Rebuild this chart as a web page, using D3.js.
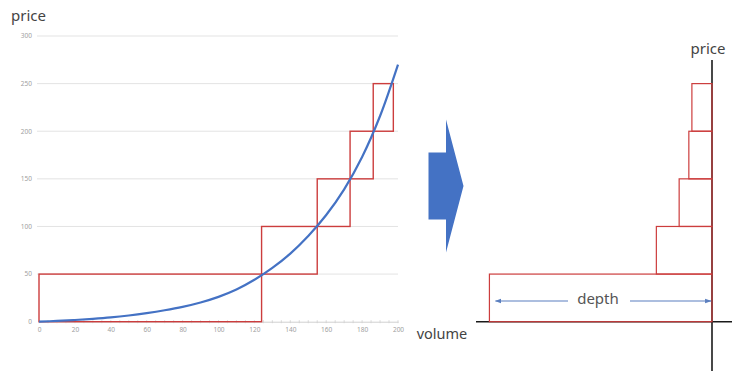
<!DOCTYPE html>
<html>
<head>
<meta charset="utf-8">
<script src="https://cdn.jsdelivr.net/npm/d3@7"></script>
<style>
  html, body { margin: 0; padding: 0; background: #fff; }
  svg { display: block; }
  text { font-family: "Noto Sans", "DejaVu Sans", sans-serif; }
</style>
</head>
<body>
<svg id="chart" width="732" height="371"></svg>
<script>
// ---- data ----
const volumeTicks = [0, 20, 40, 60, 80, 100, 120, 140, 160, 180, 200];
const priceTicks = [0, 50, 100, 150, 200, 250, 300];
const curveVolume = [0, 10, 20, 30, 40, 50, 60, 70, 80, 90, 100, 110, 120, 130, 140, 150, 160, 170, 180, 190, 200];
const curvePrice  = [0, 0.8, 1.8, 3.0, 4.5, 6.5, 9, 12, 15.6, 20.2, 26.1, 33.8, 44, 56.5, 71.5, 90, 112, 139, 173, 216, 270];
const stepPrice  = [0, 50, 100, 150, 200, 250];
const stepVolume = [0, 124, 155, 173.3, 186.2, 197.4];

const svg = d3.select("#chart");
const RED = "#cc3d3d";
const BLUE = "#4472c4";

// ---- scales ----
const x = d3.scaleLinear().domain([0, 200]).range([39, 398]);
const y = d3.scaleLinear().domain([0, 300]).range([321.7, 36]);
const depthX = d3.scaleLinear().domain([0, 200]).range([712, 353]);

// ---- left chart ----
const left = svg.append("g");

// gridlines
left.append("g").selectAll("line").data(priceTicks.filter(d => d > 0)).join("line")
  .attr("x1", 37).attr("x2", x(200))
  .attr("y1", d => y(d)).attr("y2", d => y(d))
  .attr("stroke", "#e3e3e3").attr("stroke-width", 1);

// y axis labels
left.append("g").selectAll("text").data(priceTicks).join("text")
  .attr("x", 32).attr("y", d => y(d)).attr("dy", "0.35em")
  .attr("text-anchor", "end").attr("font-size", 6.5).attr("fill", "#a0a0a0")
  .text(d => d);

// x axis
const xAxis = d3.axisBottom(x).tickValues(volumeTicks).tickSize(0).tickPadding(6);
const gx = left.append("g").attr("transform", `translate(0,${y(0)})`).call(xAxis);
gx.select(".domain").attr("stroke", "#d0d0d0");
gx.selectAll("text").attr("font-size", 6.5).attr("fill", "#a0a0a0")
  .attr("font-family", "'Noto Sans', sans-serif");
// minor ticks
left.append("g").selectAll("line").data(d3.range(0, 201, 5)).join("line")
  .attr("x1", d => x(d)).attr("x2", d => x(d))
  .attr("y1", y(0) - 1.5).attr("y2", y(0) + 1.5)
  .attr("stroke", "#d0d0d0").attr("stroke-width", 0.8);

// step rectangles
const steps = d3.range(stepPrice.length - 1).map(i => ({
  v0: stepVolume[i], v1: stepVolume[i + 1], p0: stepPrice[i], p1: stepPrice[i + 1]
}));
left.append("g").selectAll("rect").data(steps).join("rect")
  .attr("x", d => x(d.v0)).attr("width", d => x(d.v1) - x(d.v0))
  .attr("y", d => y(d.p1)).attr("height", d => y(d.p0) - y(d.p1))
  .attr("fill", "none").attr("stroke", RED).attr("stroke-width", 1.4);

// curve
const line = d3.line().x(d => x(d[0])).y(d => y(d[1])).curve(d3.curveCatmullRom);
left.append("path").datum(curveVolume.map((v, i) => [v, curvePrice[i]]))
  .attr("d", line).attr("fill", "none").attr("stroke", BLUE).attr("stroke-width", 2.2);

left.append("text").attr("x", 11).attr("y", 21).attr("font-size", 15).attr("fill", "#444").text("price");

// ---- big arrow ----
svg.append("path")
  .attr("d", "M428.5,152.5 L446,152.5 L446,119.5 L463.5,186 L446,252.5 L446,219.5 L428.5,219.5 Z")
  .attr("fill", BLUE);

// ---- right chart ----
const right = svg.append("g");
right.append("line").attr("x1", depthX(0)).attr("x2", depthX(0)).attr("y1", 60).attr("y2", 371)
  .attr("stroke", "#1a1a1a").attr("stroke-width", 1.6);
right.append("line").attr("x1", 476).attr("x2", 732).attr("y1", y(0)).attr("y2", y(0))
  .attr("stroke", "#1a1a1a").attr("stroke-width", 1.6);

right.append("g").selectAll("rect").data(steps).join("rect")
  .attr("x", d => depthX(d.v1 - d.v0)).attr("width", d => depthX(0) - depthX(d.v1 - d.v0))
  .attr("y", d => y(d.p1)).attr("height", d => y(d.p0) - y(d.p1))
  .attr("fill", "none").attr("stroke", RED).attr("stroke-width", 1.2);

// depth arrow
const defs = svg.append("defs");
defs.append("marker").attr("id", "ah").attr("viewBox", "0 0 10 10")
  .attr("refX", 9).attr("refY", 5).attr("markerWidth", 6).attr("markerHeight", 6)
  .attr("orient", "auto-start-reverse")
  .append("path").attr("d", "M0,1.5 L10,5 L0,8.5 Z").attr("fill", "#5b7fbf");
const ay = 301;
const leftEnd = depthX(stepVolume[1] - stepVolume[0]) + 6;
right.append("line").attr("x1", 568).attr("x2", leftEnd).attr("y1", ay).attr("y2", ay)
  .attr("stroke", "#5b7fbf").attr("stroke-width", 1.1).attr("marker-end", "url(#ah)");
right.append("line").attr("x1", 630).attr("x2", depthX(0) - 1).attr("y1", ay).attr("y2", ay)
  .attr("stroke", "#5b7fbf").attr("stroke-width", 1.1).attr("marker-end", "url(#ah)");
right.append("text").attr("x", 598).attr("y", 303.5).attr("text-anchor", "middle")
  .attr("font-size", 15).attr("fill", "#555").text("depth");

right.append("text").attr("x", 708).attr("y", 53.5).attr("text-anchor", "middle")
  .attr("font-size", 15).attr("fill", "#444").text("price");
right.append("text").attr("x", 442).attr("y", 338.5).attr("text-anchor", "middle")
  .attr("font-size", 14.5).attr("fill", "#444").text("volume");
</script>
</body>
</html>
